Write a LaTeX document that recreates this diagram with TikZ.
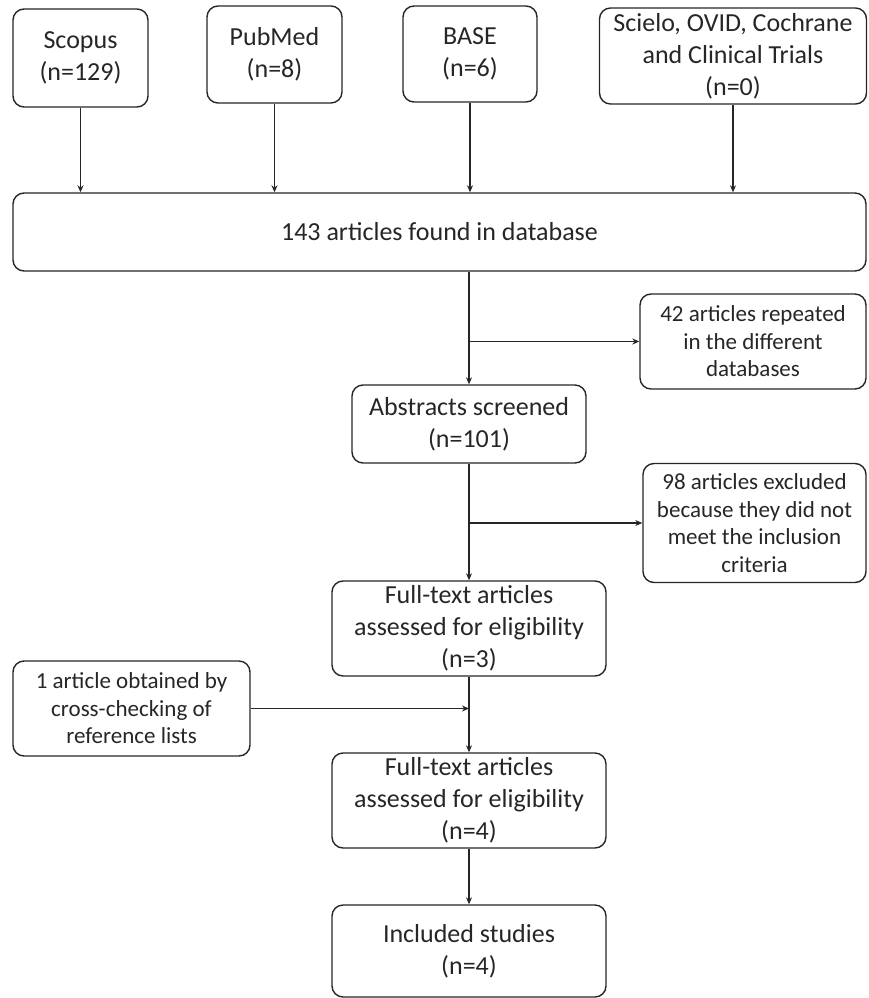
\documentclass[tikz,border=0pt]{standalone}
\usepackage{fontspec}
\setmainfont{Carlito}
\usetikzlibrary{arrows.meta}
\definecolor{ink}{HTML}{262626}
\tikzset{
  box/.style={draw=ink, line width=1.4pt, rounded corners=11pt, align=center,
    text=ink, inner sep=0pt, font=\fontsize{26}{32}\selectfont},
  sidebox/.style={box, font=\fontsize{23}{27.5}\selectfont},
  conn/.style={draw=ink, line width=1.3pt, -{Stealth[length=7pt,width=6pt]}}
}
\begin{document}
\begin{tikzpicture}[x=1pt,y=-1pt]
\useasboundingbox (0,0) rectangle (868,998);
\node[box, minimum width=135pt, minimum height=98pt] (scopus) at (80.5,58) {Scopus\\(n=129)};
\node[box, minimum width=135pt, minimum height=97pt] (pubmed) at (274.5,54.5) {PubMed\\(n=8)};
\node[box, minimum width=134pt, minimum height=96pt] (base) at (470,54) {BASE\\(n=6)};
\node[box, minimum width=267pt, minimum height=96pt] (scielo) at (733,56) {Scielo, OVID, Cochrane\\and Clinical Trials\\(n=0)};
\node[box, minimum width=853pt, minimum height=78pt] (db) at (439.5,232) {143 articles found in database};
\node[sidebox, minimum width=226pt, minimum height=95pt] (rep) at (753,341.5) {42 articles repeated\\in the different\\databases};
\node[box, minimum width=234pt, minimum height=78pt] (abs) at (469,424) {Abstracts screened\\(n=101)};
\node[sidebox, minimum width=223pt, minimum height=119pt] (excl) at (754.5,523) {98 articles excluded\\because they did not\\meet the inclusion\\criteria};
\node[box, minimum width=274pt, minimum height=95pt] (ft1) at (469,628.5) {Full-text articles\\assessed for eligibility\\(n=3)};
\node[sidebox, minimum width=237pt, minimum height=95pt] (cross) at (131.5,708.5) {1 article obtained by\\cross-checking of\\reference lists};
\node[box, minimum width=274pt, minimum height=95pt] (ft2) at (469,800.5) {Full-text articles\\assessed for eligibility\\(n=4)};
\node[box, minimum width=274pt, minimum height=92pt] (inc) at (469,951) {Included studies\\(n=4)};

\draw[conn] (scopus.south) -- (scopus.south |- db.north);
\draw[conn] (pubmed.south) -- (pubmed.south |- db.north);
\draw[conn] (base.south) -- (base.south |- db.north);
\draw[conn] (scielo.south) -- (scielo.south |- db.north);

\draw[conn] (abs.north |- db.south) -- (abs.north);
\coordinate (b1) at (abs.north |- rep.west);
\draw[conn] (b1) -- (rep.west);
\draw[conn] (abs.south) -- (ft1.north);
\coordinate (b2) at (abs.south |- excl.west);
\draw[conn] (b2) -- (excl.west);
\draw[conn] (ft1.south) -- (ft2.north);
\coordinate (b3) at (ft1.south |- cross.east);
\draw[conn] (cross.east) -- (b3);
\draw[conn] (ft2.south) -- (inc.north);
\end{tikzpicture}
\end{document}
